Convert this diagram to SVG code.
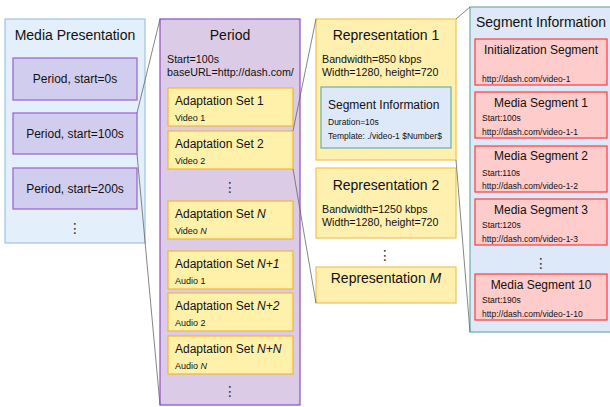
<svg xmlns="http://www.w3.org/2000/svg" width="610" height="407" viewBox="0 0 610 407">
  <style>
    text { font-family: "Liberation Sans", Arial, sans-serif; fill: #111; }
    .h14 { font-size: 14px; }
    .h12 { font-size: 12px; }
    .s11 { font-size: 10.7px; }
    .s9 { font-size: 9px; }
    .s8 { font-size: 8.5px; }
    .c { text-anchor: middle; }
    .dots { font-family: "DejaVu Sans", sans-serif; font-size: 14px; text-anchor: middle; fill: #333; }
    .mp { fill: #e3effb; stroke: #9dc3e6; stroke-width: 1.2; }
    .per { fill: #d1cdef; stroke: #9a5fcf; stroke-width: 1.2; }
    .period { fill: #dccbe6; stroke: #8e4fc0; stroke-width: 1.2; }
    .ad { fill: #fff1a9; stroke: #f0b83a; stroke-width: 1.2; }
    .rep { fill: #fff0b0; stroke: #f2c34a; stroke-width: 1.2; }
    .si { fill: #dde8f8; stroke: #6cb0a0; stroke-width: 1.2; }
    .seg { fill: #ffcccc; stroke: #ff3b3b; stroke-width: 1.2; }
    .link { stroke: #666; stroke-width: 0.8; fill: none; }
  </style>

  <!-- Media presentation with its periods -->
  <g id="media-presentation">
    <rect class="mp" x="5" y="19" width="140" height="224"/>
    <text class="h14 c" x="75" y="40">Media Presentation</text>
  </g>
  <g id="period-0">
    <rect class="per" x="13" y="58" width="124" height="42"/>
    <text class="h12 c" x="75" y="83">Period, start=0s</text>
  </g>
  <g id="period-100">
    <rect class="per" x="13" y="113" width="124" height="41"/>
    <text class="h12 c" x="75" y="138">Period, start=100s</text>
  </g>
  <g id="period-200">
    <rect class="per" x="13" y="168" width="124" height="41"/>
    <text class="h12 c" x="75" y="193">Period, start=200s</text>
  </g>
  <text class="dots" x="75" y="233">⋮</text>

  <!-- Expanded period -->
  <g id="period">
    <rect class="period" x="160" y="19" width="140" height="386"/>
    <text class="h14 c" x="230" y="40">Period</text>
    <text class="s11" x="167" y="63">Start=100s</text>
    <text class="s11" x="167" y="76">baseURL=http://dash.com/</text>
  </g>
  <g id="adaptation-set-1">
    <rect class="ad" x="168" y="88" width="125" height="38"/>
    <text class="h12" x="175" y="105">Adaptation Set 1</text>
    <text class="s9" x="175" y="121">Video 1</text>
  </g>
  <g id="adaptation-set-2">
    <rect class="ad" x="168" y="131" width="125" height="38"/>
    <text class="h12" x="175" y="148">Adaptation Set 2</text>
    <text class="s9" x="175" y="164">Video 2</text>
  </g>
  <text class="dots" x="230" y="192">⋮</text>
  <g id="adaptation-set-n">
    <rect class="ad" x="168" y="201" width="125" height="38"/>
    <text class="h12" x="175" y="218">Adaptation Set <tspan font-style="italic">N</tspan></text>
    <text class="s9" x="175" y="234">Video <tspan font-style="italic">N</tspan></text>
  </g>
  <g id="adaptation-set-n1">
    <rect class="ad" x="168" y="251" width="125" height="38"/>
    <text class="h12" x="175" y="268">Adaptation Set <tspan font-style="italic">N+1</tspan></text>
    <text class="s9" x="175" y="284">Audio 1</text>
  </g>
  <g id="adaptation-set-n2">
    <rect class="ad" x="168" y="293" width="125" height="38"/>
    <text class="h12" x="175" y="310">Adaptation Set <tspan font-style="italic">N+2</tspan></text>
    <text class="s9" x="175" y="326">Audio 2</text>
  </g>
  <g id="adaptation-set-nn">
    <rect class="ad" x="168" y="336" width="125" height="38"/>
    <text class="h12" x="175" y="353">Adaptation Set <tspan font-style="italic">N+N</tspan></text>
    <text class="s9" x="175" y="369">Audio <tspan font-style="italic">N</tspan></text>
  </g>
  <text class="dots" x="230" y="396">⋮</text>

  <!-- Representations -->
  <g id="representation-1">
    <rect class="rep" x="316" y="19" width="140" height="141"/>
    <text class="h14 c" x="386" y="40">Representation 1</text>
    <text class="s11" x="322" y="63">Bandwidth=850 kbps</text>
    <text class="s11" x="322" y="76">Width=1280, height=720</text>
  </g>
  <g id="segment-information-1">
    <rect class="si" x="321" y="87" width="130" height="61"/>
    <text class="h12" x="328" y="109">Segment Information</text>
    <text class="s8" x="328" y="125">Duration=10s</text>
    <text class="s8" x="328" y="139">Template: ./video-1 $Number$</text>
  </g>
  <g id="representation-2">
    <rect class="rep" x="316" y="168" width="140" height="70"/>
    <text class="h14 c" x="386" y="190">Representation 2</text>
    <text class="s11" x="322" y="213">Bandwidth=1250 kbps</text>
    <text class="s11" x="322" y="226">Width=1280, height=720</text>
  </g>
  <text class="dots" x="385" y="260">⋮</text>
  <g id="representation-m">
    <rect class="rep" x="316" y="267" width="140" height="36"/>
    <text class="h14 c" x="386" y="283">Representation <tspan font-style="italic">M</tspan></text>
  </g>

  <!-- Segment information detail -->
  <g id="segment-information">
    <rect class="si" x="470" y="7" width="150" height="325"/>
    <text class="h14" x="476" y="27">Segment Information</text>
  </g>
  <g id="initialization-segment">
    <rect class="seg" x="475" y="39" width="132" height="46"/>
    <text class="h12 c" x="541" y="54">Initialization Segment</text>
    <text class="s8" x="482" y="82">http://dash.com/video-1</text>
  </g>
  <g id="media-segment-1">
    <rect class="seg" x="475" y="92" width="132" height="46"/>
    <text class="h12 c" x="541" y="107">Media Segment 1</text>
    <text class="s8" x="482" y="121">Start:100s</text>
    <text class="s8" x="482" y="135">http://dash.com/video-1-1</text>
  </g>
  <g id="media-segment-2">
    <rect class="seg" x="475" y="146" width="132" height="46"/>
    <text class="h12 c" x="541" y="160">Media Segment 2</text>
    <text class="s8" x="482" y="176">Start:110s</text>
    <text class="s8" x="482" y="189">http://dash.com/video-1-2</text>
  </g>
  <g id="media-segment-3">
    <rect class="seg" x="475" y="199" width="132" height="46"/>
    <text class="h12 c" x="541" y="214">Media Segment 3</text>
    <text class="s8" x="482" y="228">Start:120s</text>
    <text class="s8" x="482" y="242">http://dash.com/video-1-3</text>
  </g>
  <text class="dots" x="541" y="268">⋮</text>
  <g id="media-segment-10">
    <rect class="seg" x="475" y="274" width="132" height="46"/>
    <text class="h12 c" x="541" y="289">Media Segment 10</text>
    <text class="s8" x="482" y="303">Start:190s</text>
    <text class="s8" x="482" y="317">http://dash.com/video-1-10</text>
  </g>

  <!-- Zoom-out connectors -->
  <g id="connectors">
    <line class="link" x1="137" y1="113" x2="160" y2="19"/>
    <line class="link" x1="137" y1="154" x2="160" y2="405"/>
    <line class="link" x1="293" y1="131" x2="316" y2="19"/>
    <line class="link" x1="293" y1="169" x2="316" y2="303"/>
    <line class="link" x1="456" y1="19" x2="470" y2="7"/>
    <line class="link" x1="456" y1="160" x2="470" y2="332"/>
  </g>
</svg>
